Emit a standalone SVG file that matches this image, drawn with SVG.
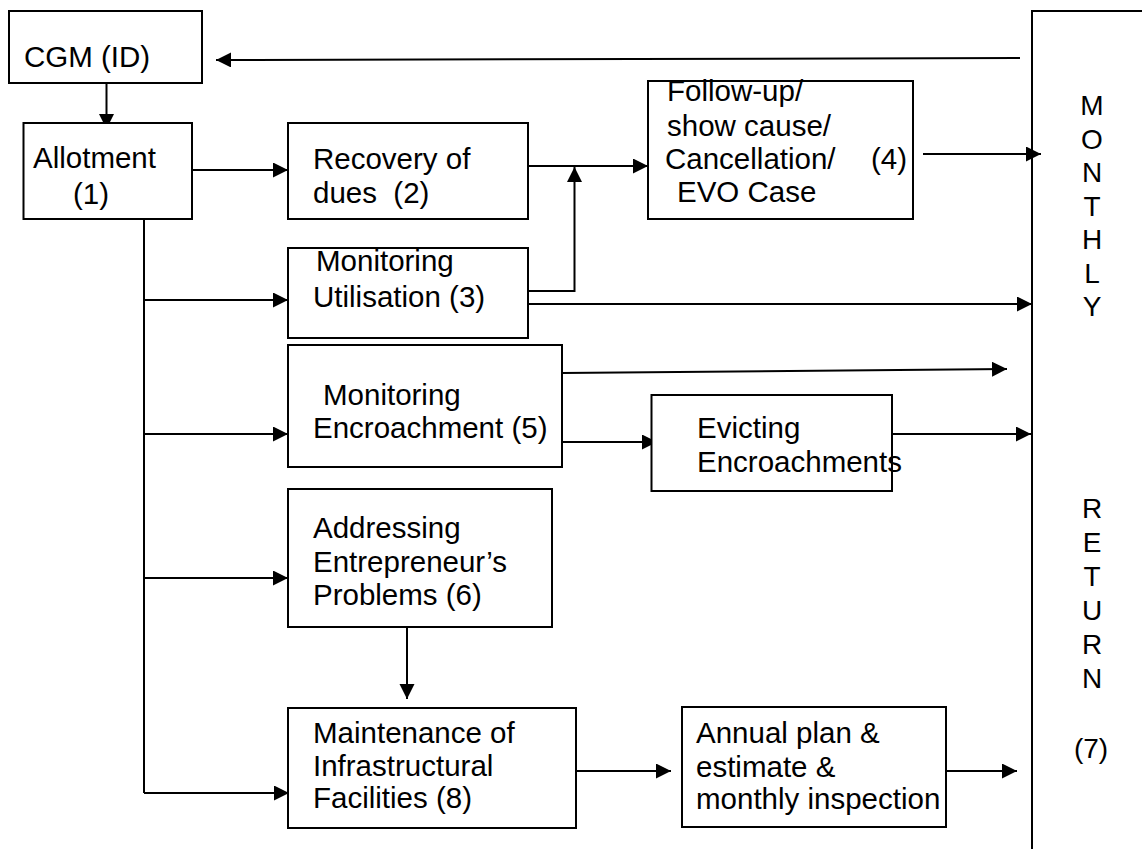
<svg xmlns="http://www.w3.org/2000/svg" width="1142" height="849" viewBox="0 0 1142 849">
<style>
  .box { fill: #ffffff; stroke: #000000; stroke-width: 2; }
  .t { font-family: "Liberation Sans", Arial, sans-serif; font-size: 29.5px; fill: #000000; white-space: pre; }
  .v { font-family: "Liberation Sans", Arial, sans-serif; font-size: 28px; fill: #000000; text-anchor: middle; }
  .c { fill: none; stroke: #000000; stroke-width: 2; }
</style>
<defs>
  <marker id="ah" markerUnits="userSpaceOnUse" markerWidth="16" markerHeight="16" refX="15" refY="7.5" orient="auto">
    <path d="M0,0 L15,7.5 L0,15 Z" fill="#000000"/>
  </marker>
</defs>
<rect width="1142" height="849" fill="#ffffff"/>

<g id="connectors">
  <line class="c" x1="1020" y1="58" x2="216" y2="60" marker-end="url(#ah)"/>
  <line class="c" x1="106.5" y1="83" x2="106.5" y2="129" marker-end="url(#ah)"/>
  <line class="c" x1="192" y1="170" x2="288" y2="170" marker-end="url(#ah)"/>
  <polyline class="c" points="144,219 144,793"/>
  <line class="c" x1="144" y1="300" x2="288" y2="300" marker-end="url(#ah)"/>
  <line class="c" x1="144" y1="434" x2="288" y2="434" marker-end="url(#ah)"/>
  <line class="c" x1="144" y1="578" x2="288" y2="578" marker-end="url(#ah)"/>
  <line class="c" x1="144" y1="793" x2="289" y2="793" marker-end="url(#ah)"/>
  <line class="c" x1="528" y1="166" x2="648" y2="166" marker-end="url(#ah)"/>
  <polyline class="c" points="528,291 574.5,291 574.5,167" marker-end="url(#ah)"/>
  <line class="c" x1="528" y1="304" x2="1032" y2="304" marker-end="url(#ah)"/>
  <line class="c" x1="923" y1="154" x2="1041" y2="154" marker-end="url(#ah)"/>
  <line class="c" x1="562" y1="373" x2="1007" y2="369" marker-end="url(#ah)"/>
  <line class="c" x1="562" y1="442" x2="657" y2="442" marker-end="url(#ah)"/>
  <line class="c" x1="890" y1="434" x2="1031" y2="434" marker-end="url(#ah)"/>
  <line class="c" x1="407" y1="627" x2="407" y2="699" marker-end="url(#ah)"/>
  <line class="c" x1="576" y1="771" x2="671" y2="771" marker-end="url(#ah)"/>
  <line class="c" x1="945" y1="771" x2="1017" y2="771" marker-end="url(#ah)"/>
</g>

<g id="cgm">
  <rect class="box" x="9" y="11" width="193" height="72"/>
  <text class="t" x="24" y="67">CGM (ID)</text>
</g>

<g id="allotment">
  <rect class="box" x="23.5" y="123" width="168.5" height="96"/>
  <text class="t" x="33" y="168">Allotment</text>
  <text class="t" x="73" y="204">(1)</text>
</g>

<g id="recovery">
  <rect class="box" x="288" y="123" width="240" height="96"/>
  <text class="t" x="313" y="169">Recovery of</text>
  <text class="t" x="313" y="203">dues  (2)</text>
</g>

<g id="followup">
  <rect class="box" x="648" y="81" width="265" height="138"/>
  <text class="t" x="667" y="101">Follow-up/</text>
  <text class="t" x="667" y="136">show cause/</text>
  <text class="t" x="665" y="169">Cancellation/</text>
  <text class="t" x="871" y="169">(4)</text>
  <text class="t" x="677" y="202">EVO Case</text>
</g>

<g id="utilisation">
  <rect class="box" x="288" y="248" width="240" height="90"/>
  <text class="t" x="316" y="271">Monitoring</text>
  <text class="t" x="313" y="307">Utilisation (3)</text>
</g>

<g id="encroachment">
  <rect class="box" x="288" y="345" width="274" height="122"/>
  <text class="t" x="323" y="405">Monitoring</text>
  <text class="t" x="313" y="438">Encroachment (5)</text>
</g>

<g id="evicting">
  <rect class="box" x="651.5" y="395" width="240.5" height="96"/>
  <text class="t" x="697" y="438">Evicting</text>
  <text class="t" x="697" y="472">Encroachments</text>
</g>

<g id="addressing">
  <rect class="box" x="288" y="489" width="264" height="138"/>
  <text class="t" x="313" y="538">Addressing</text>
  <text class="t" x="313" y="572">Entrepreneur’s</text>
  <text class="t" x="313" y="605">Problems (6)</text>
</g>

<g id="maintenance">
  <rect class="box" x="288" y="708" width="288" height="120"/>
  <text class="t" x="313" y="743">Maintenance of</text>
  <text class="t" x="313" y="776">Infrastructural</text>
  <text class="t" x="313" y="808">Facilities (8)</text>
</g>

<g id="annual">
  <rect class="box" x="682" y="707" width="264" height="120"/>
  <text class="t" x="696" y="743">Annual plan &amp;</text>
  <text class="t" x="696" y="777">estimate &amp;</text>
  <text class="t" x="696" y="809">monthly inspection</text>
</g>

<g id="monthly-return">
  <path class="c" d="M1032,860 V11 H1150"/>
  <text class="v" x="1092" y="115">M</text>
  <text class="v" x="1092" y="148.5">O</text>
  <text class="v" x="1092" y="182">N</text>
  <text class="v" x="1092" y="215.5">T</text>
  <text class="v" x="1092" y="249">H</text>
  <text class="v" x="1092" y="282.5">L</text>
  <text class="v" x="1092" y="316">Y</text>
  <text class="v" x="1092" y="518">R</text>
  <text class="v" x="1092" y="552">E</text>
  <text class="v" x="1092" y="586">T</text>
  <text class="v" x="1092" y="620">U</text>
  <text class="v" x="1092" y="654">R</text>
  <text class="v" x="1092" y="688">N</text>
  <text class="v" x="1091" y="758">(7)</text>
</g>
</svg>
